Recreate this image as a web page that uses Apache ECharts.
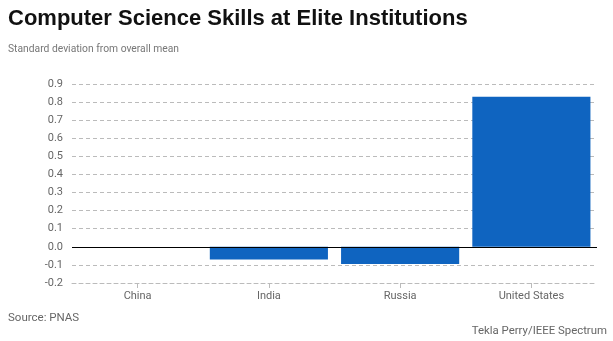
<!DOCTYPE html>
<html><head><meta charset="utf-8">
<script src="https://cdn.jsdelivr.net/npm/echarts@6/dist/echarts.min.js"></script>
<style>html,body{margin:0;padding:0;background:#fff}#c{width:613px;height:341px}</style>
</head><body><div id="c"></div>
<script>
const categories = ["China", "India", "Russia", "United States"];
const values = [0, -0.07, -0.095, 0.83];
const yMin = -0.2, yMax = 0.9, yStep = 0.1;

const chart = echarts.init(document.getElementById('c'), null, {renderer: 'canvas'});
chart.setOption({
  animation: false,
  backgroundColor: '#fff',
  title: [
    {text: 'Computer Science Skills at Elite Institutions', left: 8, top: 8, padding: 0,
     textStyle: {fontFamily: 'Liberation Sans', fontWeight: 'bold', fontSize: 22, color: '#111'}},
    {text: 'Standard deviation from overall mean', left: 8, top: 44, padding: 0,
     textStyle: {fontFamily: 'Roboto', fontWeight: 'normal', fontSize: 10.3, color: '#777'}},
    {text: 'Source: PNAS', left: 8, top: 312, padding: 0,
     textStyle: {fontFamily: 'Roboto', fontWeight: 'normal', fontSize: 11.5, color: '#666'}},
    {text: 'Tekla Perry/IEEE Spectrum', right: 6, top: 326, padding: 0,
     textStyle: {fontFamily: 'Roboto', fontWeight: 'normal', fontSize: 11.4, color: '#666'}}
  ],
  grid: {left: 72, right: 16, top: 84, bottom: 58, containLabel: false},
  xAxis: {
    type: 'category', data: categories,
    axisLine: {onZero: false, lineStyle: {color: '#bbb', type: [4, 3], width: 1}},
    axisTick: {show: true, alignWithLabel: true, length: 5, lineStyle: {color: '#bbb'}},
    axisLabel: {color: '#666', fontFamily: 'Roboto', fontSize: 11, margin: 8}
  },
  yAxis: {
    type: 'value', min: yMin, max: yMax, interval: yStep,
    axisLine: {show: false}, axisTick: {show: false},
    axisLabel: {color: '#666', fontFamily: 'Roboto', fontSize: 11, margin: 9,
      formatter: v => (Math.abs(v) < 1e-9 ? 0 : v).toFixed(1)},
    splitLine: {show: true, lineStyle: {color: '#bbb', type: [4, 3], width: 1}}
  },
  series: [{
    type: 'bar', data: values, barCategoryGap: '10%',
    itemStyle: {color: '#0f64c0'},
    markLine: {
      silent: true, symbol: 'none', label: {show: false},
      lineStyle: {color: '#000', type: 'solid', width: 1.2},
      data: [{yAxis: 0}]
    }
  }]
});
</script></body></html>
